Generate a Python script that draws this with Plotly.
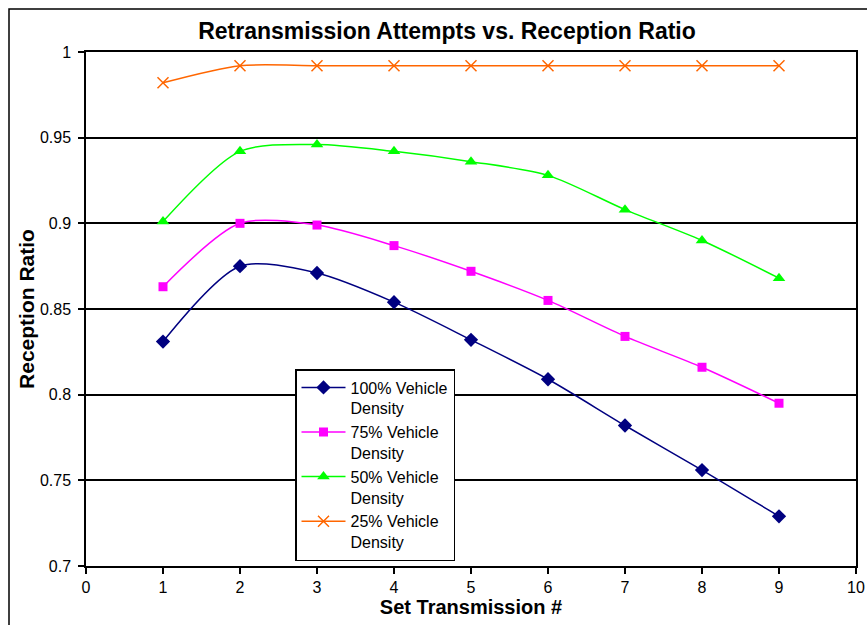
import plotly.graph_objects as go

x_vals = [1, 2, 3, 4, 5, 6, 7, 8, 9]
density_100 = [0.831, 0.875, 0.871, 0.854, 0.832, 0.809, 0.782, 0.756, 0.729]
density_75 = [0.863, 0.900, 0.899, 0.887, 0.872, 0.855, 0.834, 0.816, 0.795]
density_50 = [0.901, 0.942, 0.946, 0.942, 0.936, 0.928, 0.908, 0.890, 0.868]
density_25 = [0.982, 0.992, 0.992, 0.992, 0.992, 0.992, 0.992, 0.992, 0.992]

series_names = ["100% Vehicle<br>Density", "75% Vehicle<br>Density",
                "50% Vehicle<br>Density", "25% Vehicle<br>Density"]
y_tickvals = [0.7, 0.75, 0.8, 0.85, 0.9, 0.95, 1.0]
y_ticktext = ["0.7", "0.75", "0.8", "0.85", "0.9", "0.95", "1"]
x_tickvals = [0, 1, 2, 3, 4, 5, 6, 7, 8, 9, 10]

styles = [
    dict(color="#000080", symbol="diamond", size=11),
    dict(color="#FF00FF", symbol="square", size=9),
    dict(color="#00FF00", symbol="triangle-up", size=11),
    dict(color="#FF6600", symbol="x-thin-open", size=11),
]

fig = go.Figure()
for name, ys, st in zip(series_names, [density_100, density_75, density_50, density_25], styles):
    marker = dict(symbol=st["symbol"], size=st["size"], color=st["color"])
    if st["symbol"].startswith("x-thin"):
        marker["line"] = dict(color=st["color"], width=1.5)
    fig.add_trace(go.Scatter(
        x=x_vals, y=ys, name=name, mode="lines+markers",
        line=dict(color=st["color"], width=1.5, shape="spline", smoothing=0.8),
        marker=marker,
    ))

font_family = "Liberation Sans, Arial, sans-serif"
W, H = 867, 625
L, R, T, B = 86, 856, 52, 566  # plot area in page pixels
PW, PH = R - L, B - T

fig.update_layout(
    width=W, height=H,
    margin=dict(l=L, r=W - R, t=T, b=H - B, autoexpand=False),
    paper_bgcolor="white", plot_bgcolor="white",
    font=dict(family=font_family, color="black", size=16),
    title=dict(text="<b>Retransmission Attempts vs. Reception Ratio</b>",
               x=447 / W, xref="container", xanchor="center",
               y=1 - 31 / H, yref="container", yanchor="middle",
               font=dict(size=23, family=font_family, color="black")),
    showlegend=True,
    legend=dict(x=(295 - L) / PW, y=(B - 369) / PH, xanchor="left", yanchor="top",
                bgcolor="white", bordercolor="black", borderwidth=1.5,
                font=dict(size=16, family=font_family), valign="top",
                tracegroupgap=0, itemwidth=44),
    xaxis=dict(range=[0, 10], tickvals=x_tickvals, showgrid=False, zeroline=False,
               showline=True, linecolor="black", linewidth=1.5,
               ticks="outside", ticklen=6, tickcolor="black", tickwidth=1.5,
               tickfont=dict(size=16), automargin=False, ticklabeloverflow="allow",
               title=dict(text="<b>Set Transmission #</b>", font=dict(size=20), standoff=0),
               mirror=True),
    yaxis=dict(range=[0.7, 1.0], tickvals=y_tickvals, ticktext=y_ticktext,
               showgrid=True, gridcolor="black", gridwidth=1.5, zeroline=False,
               showline=True, linecolor="black", linewidth=1.5,
               ticks="outside", ticklen=6, tickcolor="black", tickwidth=1.5,
               tickfont=dict(size=16), ticklabelstandoff=4, automargin=False,
               title=dict(text="<b>Reception Ratio</b>", font=dict(size=21), standoff=0),
               mirror=True),
    shapes=[dict(type="rect", xref="paper", yref="paper",
                 x0=(9 - L) / PW, x1=1.2, y0=-0.3, y1=(B - 9) / PH,
                 line=dict(color="black", width=1.5), layer="below")],
)

fig.write_html("out.html",
               config={"displayModeBar": False},
               post_script="document.body.style.margin='0';document.body.style.overflow='hidden';")
